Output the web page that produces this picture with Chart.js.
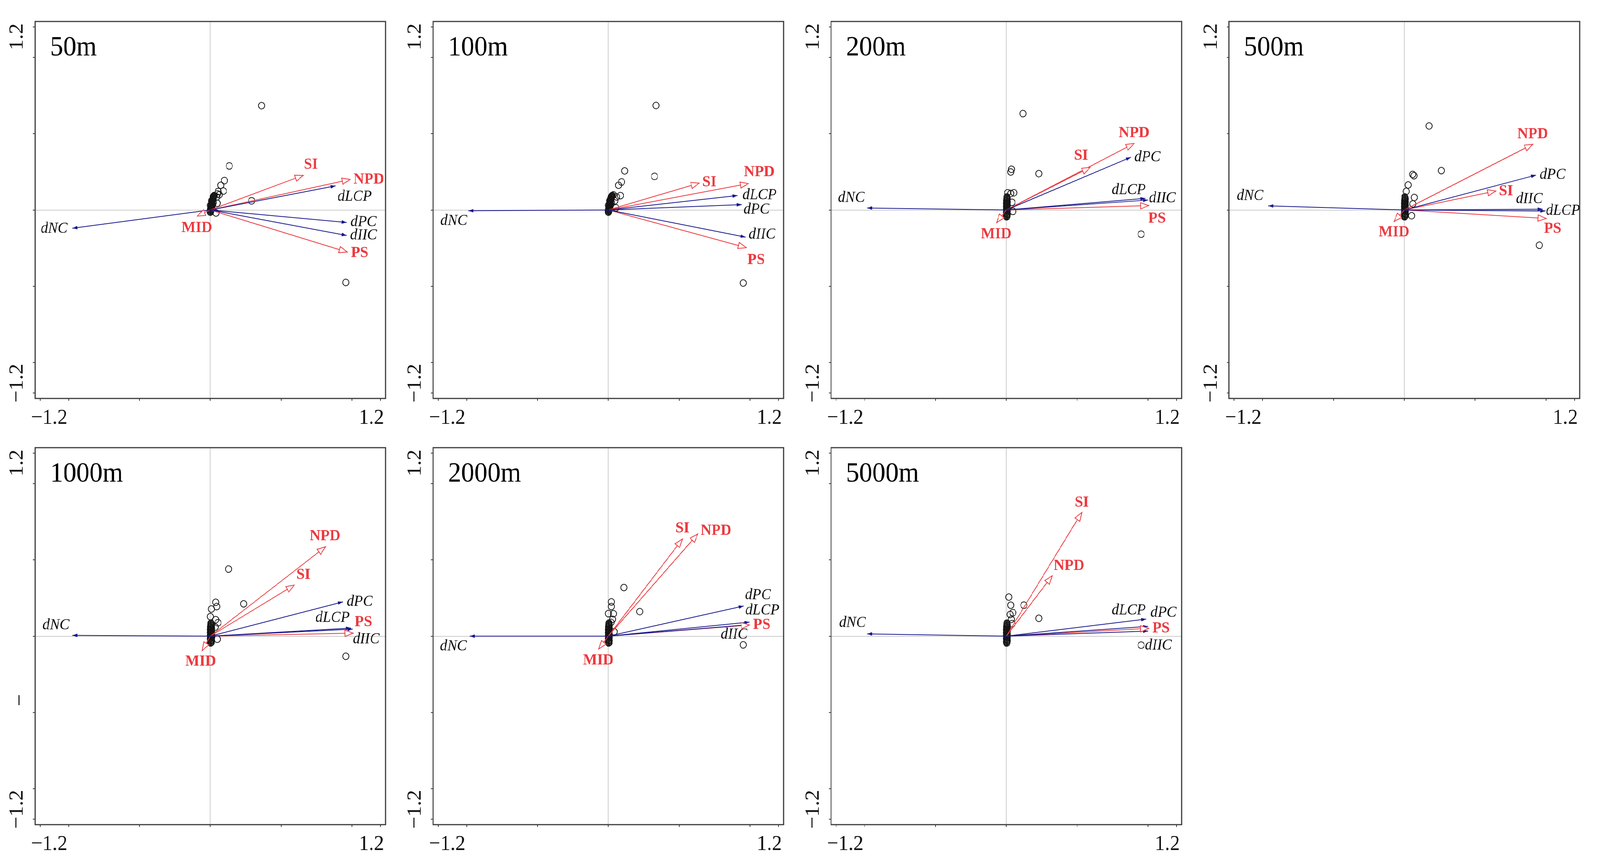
<!DOCTYPE html>
<html>
<head>
<meta charset="utf-8">
<title>RDA biplots by buffer distance</title>
<script src="https://cdn.jsdelivr.net/npm/chart.js@4.4.1/dist/chart.umd.min.js"></script>
<style>
  html, body { margin: 0; padding: 0; background: #fff; overflow: hidden; }
  #sheet { position: absolute; left: 0; top: 0; width: 4382px; height: 2222px; transform-origin: 0 0; background: #fff; }
  .panel { position: absolute; width: 1090px; height: 1100px; }
</style>
</head>
<body>
<div id="sheet"></div>
<script>
// one biplot per buffer distance
const panelNames = ['50m', '100m', '200m', '500m', '1000m', '2000m', '5000m'];

// explanatory variables: connectivity indices (blue) and landscape metrics (red)
const varNames = ['dNC', 'dLCP', 'dPC', 'dIIC', 'SI', 'NPD', 'PS', 'MID'];
const connVars = ['dNC', 'dLCP', 'dPC', 'dIIC'];

// arrow tips [x, y] in varNames order (null = not shown)
const arrows50m   = [[-0.973, -0.120], [0.884, 0.158], [0.962, -0.082], [0.962, -0.167], [0.655, 0.227], [0.986, 0.200], [0.966, -0.276], [-0.092, -0.040]];
const arrows100m  = [[-0.987, -0.005], [0.912, 0.095], [0.942, 0.035], [0.968, -0.178], [0.641, 0.176], [0.987, 0.173], [0.973, -0.247], null];
const arrows200m  = [[-0.982, 0.013], [0.982, 0.076], [0.879, 0.346], [1.000, 0.065], [0.591, 0.279], [0.901, 0.436], [1.004, 0.029], [-0.068, -0.083]];
const arrows500m  = [[-0.959, 0.027], [0.995, -0.007], [0.930, 0.229], [0.977, 0.005], [0.645, 0.124], [0.906, 0.431], [1.000, -0.056], [-0.072, -0.076]];
const arrows1000m = [[-0.973, 0.005], [0.993, 0.053], [0.935, 0.225], [1.004, 0.046], [0.592, 0.335], [0.812, 0.586], [1.007, 0.020], [-0.058, -0.095]];
const arrows2000m = [[-0.977, 0.000], [0.996, 0.092], [0.955, 0.198], [0.987, 0.075], [0.523, 0.637], [0.631, 0.670], [0.995, 0.073], [-0.068, -0.084]];
const arrows5000m = [[-0.982, 0.015], [1.000, 0.064], [0.987, 0.112], [1.000, 0.033], [0.532, 0.811], [0.324, 0.396], [1.004, 0.051], null];

// site scores that stand apart from the central clump
const sites50m   = [[0.361, 0.684], [0.134, 0.289], [0.100, 0.193], [0.074, 0.162], [0.092, 0.124], [0.056, 0.121], [0.064, 0.100], [0.291, 0.060], [0.955, -0.475], [0.040, -0.020], [0.048, 0.044], [0.045, 0.085], [0.050, 0.105]];
const sites100m  = [[0.337, 0.685], [0.115, 0.256], [0.326, 0.220], [0.094, 0.184], [0.072, 0.162], [0.085, 0.094], [0.059, 0.086], [0.036, 0.099], [0.951, -0.479], [0.054, 0.014], [0.045, 0.060]];
const sites200m  = [[0.117, 0.632], [0.229, 0.238], [0.036, 0.267], [0.031, 0.249], [0.010, 0.113], [0.031, 0.108], [0.054, 0.113], [0.951, -0.159], [0.047, -0.009], [0.040, 0.050]];
const sites500m  = [[0.175, 0.551], [0.261, 0.258], [0.059, 0.233], [0.068, 0.225], [0.027, 0.164], [0.014, 0.122], [0.070, 0.082], [0.953, -0.231], [0.052, -0.038], [0.060, 0.040]];
const sites1000m = [[0.128, 0.440], [0.235, 0.212], [0.038, 0.222], [0.045, 0.194], [0.007, 0.178], [0.000, 0.128], [0.038, 0.108], [0.054, 0.088], [0.955, -0.132], [0.049, -0.020], [0.035, 0.060]];
const sites2000m = [[0.110, 0.319], [0.222, 0.161], [0.022, 0.225], [0.022, 0.194], [0.000, 0.148], [0.036, 0.147], [0.020, 0.090], [0.041, 0.029], [0.951, -0.057], [0.030, 0.110]];
const sites5000m = [[0.018, 0.256], [0.031, 0.203], [0.124, 0.203], [0.229, 0.117], [0.047, 0.154], [0.027, 0.142], [0.041, 0.082], [0.951, -0.059], [0.035, 0.110]];

// the dense clump of sites near the origin (slanted at 50m/100m, upright after)
const clumpSlanted = [[0.000, -0.015], [0.002, -0.010], [-0.001, -0.006], [0.003, -0.002], [0.001, 0.002], [0.004, 0.006], [0.002, 0.010], [0.006, 0.013],
  [0.004, 0.017], [0.007, 0.021], [0.005, 0.025], [0.009, 0.028], [0.007, 0.032], [0.010, 0.036], [0.008, 0.040], [0.012, 0.043], [0.011, 0.047],
  [0.014, 0.051], [0.012, 0.055], [0.016, 0.058], [0.015, 0.062], [0.018, 0.066], [0.017, 0.070], [0.020, 0.073], [0.019, 0.077], [0.022, 0.081],
  [0.021, 0.085], [0.024, 0.088], [0.026, 0.092], [0.028, 0.095], [0.012, 0.020], [0.018, 0.035], [0.000, 0.030], [0.022, 0.050], [0.008, 0.060]];
const clumpUpright = [[0.002, -0.045], [0.006, -0.041], [0.000, -0.037], [0.004, -0.033], [0.008, -0.029], [0.002, -0.025], [0.006, -0.021],
  [0.000, -0.017], [0.004, -0.013], [0.008, -0.009], [0.002, -0.005], [0.006, -0.001], [0.000, 0.003], [0.004, 0.007], [0.008, 0.011],
  [0.002, 0.015], [0.006, 0.019], [0.000, 0.023], [0.004, 0.027], [0.008, 0.031], [0.002, 0.035], [0.006, 0.039], [0.000, 0.043],
  [0.004, 0.047], [0.008, 0.051], [0.002, 0.055], [0.006, 0.059], [0.001, 0.063], [0.005, 0.067], [0.008, 0.071], [0.003, 0.075],
  [0.006, 0.080], [0.004, 0.085]];

// axis ticks; only the ends get a label
const tickValues = [-1.2, -1, -0.5, 0, 0.5, 1, 1.2];
const labelledTicks = [-1.2, 1.2];
const strayYLabels = { '1000m': [[-0.42, '\u2212']] };

const panelArrows = [arrows50m, arrows100m, arrows200m, arrows500m, arrows1000m, arrows2000m, arrows5000m];
const panelSites = [
  sites50m.concat(clumpSlanted), sites100m.concat(clumpSlanted), sites200m.concat(clumpUpright),
  sites500m.concat(clumpUpright), sites1000m.concat(clumpUpright), sites2000m.concat(clumpUpright),
  sites5000m.concat(clumpUpright)
];

// label placement: pixel offset of each label centre from its arrow tip
const labelOffsets = {
  '50m':   [[-50, 1], [52, 28], [46, -1], [46, 0], [21, -27], [51, 0], [34, 2], [-1, 30]],
  '100m':  [[-40, 26], [60, -1], [40, 13], [45, -7], [28, -2], [30, -30], [27, 31], null],
  '200m':  [[-43, -26], [-46, -21], [45, 0], [39, -5], [-25, -30], [0, -27], [23, 33], [-1, 30]],
  '500m':  [[-50, -25], [48, -1], [45, -1], [-37, -26], [28, 0], [0, -26], [18, 26], [0, 27]],
  '1000m': [[-45, -26], [-51, -26], [46, 0], [37, 26], [25, -26], [-1, -27], [28, -28], [-4, 28]],
  '2000m': [[-45, 26], [35, -30], [39, -28], [-39, 25], [0, -27], [50, -9], [34, -1], [-1, 29]],
  '5000m': [[-40, -28], [-53, -41], [47, -16], [28, 37], [0, -26], [46, -26], [34, 0], null]
};

const BLUE = '#18188c';
const RED = '#ec3a3f';
const SERIF = '"Liberation Serif", "Times New Roman", serif';
const LIMIT = 1.236;

// stretch the 4382 x 2222 sheet over whatever viewport we get
const sheet = document.getElementById('sheet');
const sx = window.innerWidth / 4382, sy = window.innerHeight / 2222;
sheet.style.transform = 'scale(' + sx + ',' + sy + ')';

const fmt = v => (v < 0 ? '\u2212' : '') + Math.abs(v).toFixed(1);

const biplotDecor = {
  id: 'biplotDecor',
  afterDatasetsDraw(chart) {
    const ctx = chart.ctx;
    const { left, top, right, bottom } = chart.chartArea;
    const xs = chart.scales.x, ys = chart.scales.y;
    const name = chart.options.plugins.biplotDecor.panel;
    const offsets = labelOffsets[name];
    ctx.save();

    // arrow heads and their labels
    chart.data.datasets.forEach((ds, i) => {
      if (ds.varIndex === undefined) return;
      const pts = chart.getDatasetMeta(i).data;
      const a = pts[0], b = pts[1];
      const ang = Math.atan2(b.y - a.y, b.x - a.x);
      const isConn = connVars.includes(varNames[ds.varIndex]);
      const len = isConn ? 14 : 22;
      const half = isConn ? 4.5 : 8;
      const bx = b.x - len * Math.cos(ang), by = b.y - len * Math.sin(ang);
      const px = -Math.sin(ang) * half, py = Math.cos(ang) * half;
      ctx.beginPath();
      ctx.moveTo(b.x, b.y);
      ctx.lineTo(bx + px, by + py);
      ctx.lineTo(bx - px, by - py);
      ctx.closePath();
      if (isConn) {
        ctx.fillStyle = BLUE;
        ctx.fill();
      } else {
        ctx.fillStyle = '#fff';
        ctx.fill();
        ctx.strokeStyle = RED;
        ctx.lineWidth = 2;
        ctx.stroke();
      }
      const off = offsets[ds.varIndex] || [0, 0];
      ctx.font = isConn ? 'italic 40px ' + SERIF : 'bold 41px ' + SERIF;
      ctx.fillStyle = isConn ? '#111' : RED;
      ctx.textAlign = 'center';
      ctx.textBaseline = 'middle';
      ctx.fillText(varNames[ds.varIndex], b.x + off[0], b.y + off[1]);
    });

    // frame
    ctx.strokeStyle = '#3c3c3c';
    ctx.lineWidth = 3;
    ctx.strokeRect(left, top, right - left, bottom - top);

    // panel title
    ctx.fillStyle = '#000';
    ctx.font = '72px ' + SERIF;
    ctx.textAlign = 'left';
    ctx.textBaseline = 'alphabetic';
    ctx.fillText(name, left + 41, top + 87);

    // end labels of the axes, nudged inward like the original
    ctx.font = '55px ' + SERIF;
    ctx.fillStyle = '#111';
    ctx.textAlign = 'center';
    labelledTicks.forEach(v => {
      ctx.textBaseline = 'alphabetic';
      ctx.fillText(fmt(v), xs.getPixelForValue(v) - Math.sign(v) * 25, bottom + 65);
      ctx.save();
      ctx.translate(left - 48, ys.getPixelForValue(v) + Math.sign(v) * 25);
      ctx.rotate(-Math.PI / 2);
      ctx.textBaseline = 'middle';
      ctx.fillText(fmt(v), 0, 0);
      ctx.restore();
    });
    (strayYLabels[name] || []).forEach(([v, t]) => {
      ctx.save();
      ctx.translate(left - 40, ys.getPixelForValue(v));
      ctx.rotate(-Math.PI / 2);
      ctx.textBaseline = 'middle';
      ctx.fillText(t, 0, 0);
      ctx.restore();
    });
    ctx.restore();
  }
};

function axisOptions(fitSize) {
  return {
    type: 'linear',
    min: -LIMIT,
    max: LIMIT,
    afterBuildTicks: axis => { axis.ticks = tickValues.map(v => ({ value: v })); },
    afterFit: fitSize,
    ticks: { display: false },
    border: { display: false },
    grid: {
      color: c => (c.tick && c.tick.value === 0) ? '#cccccc' : 'rgba(0,0,0,0)',
      lineWidth: 2,
      drawTicks: true,
      tickLength: 6,
      tickColor: '#3c3c3c',
      tickWidth: 2
    }
  };
}

panelNames.forEach((name, p) => {
  const col = p % 4, row = Math.floor(p / 4);
  const frameLeft = 96 + 1090 * col;
  const frameTop = row === 0 ? 55 : 1146;
  const box = document.createElement('div');
  box.className = 'panel';
  box.style.left = (frameLeft - 96) + 'px';
  box.style.top = (frameTop - 55) + 'px';
  const canvas = document.createElement('canvas');
  canvas.width = 1090;
  canvas.height = 1100;
  box.appendChild(canvas);
  sheet.appendChild(box);

  const datasets = [];
  panelArrows[p].forEach((tip, k) => {
    if (!tip) return;
    const isConn = connVars.includes(varNames[k]);
    datasets.push({
      type: 'line',
      label: varNames[k],
      varIndex: k,
      data: [{ x: 0, y: 0 }, { x: tip[0], y: tip[1] }],
      borderColor: isConn ? BLUE : RED,
      borderWidth: 2,
      pointRadius: 0,
      fill: false,
      tension: 0
    });
  });
  datasets.push({
    type: 'scatter',
    label: 'sites',
    data: panelSites[p].map(([x, y]) => ({ x, y })),
    pointStyle: 'circle',
    pointRadius: 8.5,
    pointBorderWidth: 2,
    pointBorderColor: '#151515',
    pointBackgroundColor: 'rgba(0,0,0,0)'
  });

  new Chart(canvas.getContext('2d'), {
    type: 'scatter',
    data: { datasets },
    options: {
      responsive: false,
      maintainAspectRatio: false,
      animation: false,
      events: [],
      devicePixelRatio: 1,
      layout: { padding: { left: 0, top: 55, right: 34, bottom: 0 } },
      scales: {
        x: axisOptions(s => { s.height = 80; }),
        y: axisOptions(s => { s.width = 96; })
      },
      plugins: {
        legend: { display: false },
        tooltip: { enabled: false },
        biplotDecor: { panel: name }
      }
    },
    plugins: [biplotDecor]
  });
});
</script>
</body>
</html>
